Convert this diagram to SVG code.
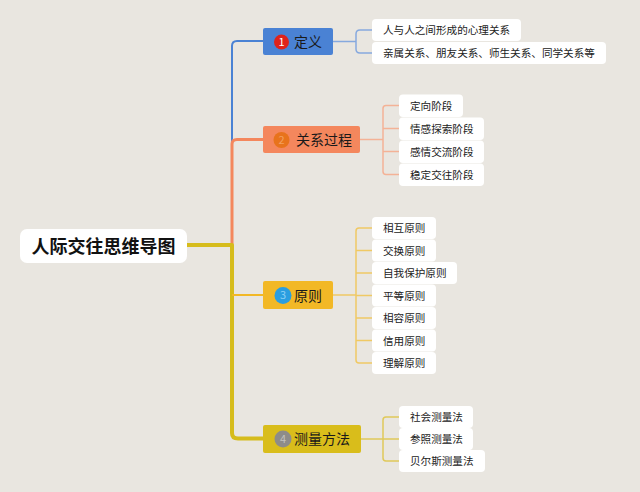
<svg xmlns="http://www.w3.org/2000/svg" width="640" height="492" viewBox="0 0 640 492">
<style>
text{font-family:"Noto Sans CJK SC","Noto Sans",sans-serif;}
.root{font-size:18px;font-weight:bold;fill:#111;}
.br{font-size:14px;fill:#1a1a1a;}
.num{font-size:11px;text-anchor:middle;}
.leaf rect{fill:#ffffff;}
.leaf text{font-size:10.6px;fill:#222222;}
.c{fill:none;stroke-linecap:butt;stroke-linejoin:round;}
</style>
<rect width="640" height="492" fill="#e9e6e0"/>
<g id="connectors">
  <path class="c" d="M232,245 V46 Q232,41 237,41 H264" stroke="#4a82d4" stroke-width="2"/>
  <path class="c" d="M232,245 V144 Q232,139.5 237,139.5 H264" stroke="#f4875d" stroke-width="3"/>
  <path class="c" d="M186,245 H232 V433 Q232,438.5 238,438.5 H264" stroke="#d6bc1c" stroke-width="4"/>
  <path class="c" d="M232,295 H264" stroke="#f2b826" stroke-width="2"/>
  <path class="c" d="M333,41.5 H356 M372,30 H360 Q356,30 356,34 V49 Q356,53 360,53 H372" stroke="#86a9de" stroke-width="1.5"/>
  <path class="c" d="M360,139.5 H383 M399,105.5 H386 Q383,105.5 383,108.5 V171.5 Q383,174.5 386,174.5 H399 M383,128.5 H399 M383,151.5 H399" stroke="#f4b296" stroke-width="1.5"/>
  <path class="c" d="M333,295 H356 M372,228 H359 Q356,228 356,231 V360 Q356,363 359,363 H372 M356,250.5 H372 M356,273 H372 M356,295.5 H372 M356,318 H372 M356,340.5 H372" stroke="#f0c964" stroke-width="1.5"/>
  <path class="c" d="M361,439 H383 M399,417 H386 Q383,417 383,420 V458 Q383,461 386,461 H399 M383,439 H399" stroke="#e0c95a" stroke-width="1.5"/>
</g>
<g id="root">
  <rect x="20" y="229" width="167" height="34" rx="7" fill="#ffffff"/>
  <text class="root" x="103.5" y="252.5" text-anchor="middle">人际交往思维导图</text>
</g>
<g id="b1">
  <rect x="263" y="28" width="70" height="27" rx="2" fill="#4a82d4"/>
  <circle cx="281.5" cy="42" r="7.5" fill="#e0231b"/>
  <text class="num" x="281.5" y="45.8" fill="#ffffff">1</text>
  <text class="br" x="294" y="46.8">定义</text>
</g>
<g id="b2">
  <rect x="263" y="126" width="97" height="27" rx="2" fill="#f4875d"/>
  <circle cx="281.5" cy="140" r="8" fill="#e8731c"/>
  <text class="num" x="281.5" y="143.8" fill="#f2a060">2</text>
  <text class="br" x="296" y="145">关系过程</text>
</g>
<g id="b3">
  <rect x="263" y="281" width="70" height="28" rx="2" fill="#f2b826"/>
  <circle cx="283" cy="295.5" r="8.5" fill="#2a9ee0"/>
  <text class="num" x="283" y="299.3" fill="#8cd0f4">3</text>
  <text class="br" x="294" y="300.5">原则</text>
</g>
<g id="b4">
  <rect x="263" y="425" width="98" height="28" rx="2" fill="#d9bd1b"/>
  <circle cx="283" cy="439" r="8.5" fill="#8e8c89"/>
  <text class="num" x="283" y="442.8" fill="#c4c2bf">4</text>
  <text class="br" x="294" y="444.3">测量方法</text>
</g>
<g id="l1" class="leaf"><rect x="372" y="19" width="149" height="22" rx="4"/><text x="383" y="34">人与人之间形成的心理关系</text></g>
<g id="l2" class="leaf"><rect x="372" y="42" width="234" height="22" rx="4"/><text x="383" y="57">亲属关系、朋友关系、师生关系、同学关系等</text></g>
<g id="l3" class="leaf"><rect x="399" y="94.5" width="64" height="22.5" rx="4"/><text x="410" y="109.5">定向阶段</text></g>
<g id="l4" class="leaf"><rect x="399" y="117.5" width="85" height="22.5" rx="4"/><text x="410" y="132.5">情感探索阶段</text></g>
<g id="l5" class="leaf"><rect x="399" y="140.5" width="85" height="22.5" rx="4"/><text x="410" y="155.5">感情交流阶段</text></g>
<g id="l6" class="leaf"><rect x="399" y="163.5" width="85" height="22.5" rx="4"/><text x="410" y="178.5">稳定交往阶段</text></g>
<g id="l7" class="leaf"><rect x="372" y="217" width="64" height="22" rx="4"/><text x="383" y="232">相互原则</text></g>
<g id="l8" class="leaf"><rect x="372" y="239.5" width="64" height="22" rx="4"/><text x="383" y="254.5">交换原则</text></g>
<g id="l9" class="leaf"><rect x="372" y="262" width="85" height="22" rx="4"/><text x="383" y="277">自我保护原则</text></g>
<g id="l10" class="leaf"><rect x="372" y="284.5" width="64" height="22" rx="4"/><text x="383" y="299.5">平等原则</text></g>
<g id="l11" class="leaf"><rect x="372" y="307" width="64" height="22" rx="4"/><text x="383" y="322">相容原则</text></g>
<g id="l12" class="leaf"><rect x="372" y="329.5" width="64" height="22" rx="4"/><text x="383" y="344.5">信用原则</text></g>
<g id="l13" class="leaf"><rect x="372" y="352" width="64" height="22" rx="4"/><text x="383" y="367">理解原则</text></g>
<g id="l14" class="leaf"><rect x="399" y="406" width="74" height="22" rx="4"/><text x="410" y="421">社会测量法</text></g>
<g id="l15" class="leaf"><rect x="399" y="428" width="74" height="22" rx="4"/><text x="410" y="443">参照测量法</text></g>
<g id="l16" class="leaf"><rect x="399" y="450" width="86" height="22" rx="4"/><text x="410" y="465">贝尔斯测量法</text></g>
</svg>
